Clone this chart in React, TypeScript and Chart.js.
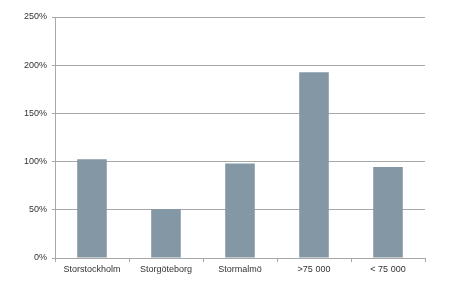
import React, { useEffect, useRef } from "react";
import { Chart, registerables } from "chart.js";

Chart.register(...registerables);

const categories = ["Storstockholm", "Storgöteborg", "Stormalmö", ">75 000", "< 75 000"];
const values = [102.4, 50.8, 97.9, 192.6, 94.4];
const yTicks = [0, 50, 100, 150, 200, 250];

export default function App() {
  const ref = useRef<HTMLCanvasElement | null>(null);
  useEffect(() => {
    document.body.style.margin = "0";
    const font = { family: "'Liberation Sans', Arial, sans-serif", size: 9 };
    const chart = new Chart(ref.current!, {
      type: "bar",
      data: {
        labels: categories,
        datasets: [
          {
            data: values,
            backgroundColor: "#8497a4",
            categoryPercentage: 1,
            barPercentage: 0.4,
          },
        ],
      },
      options: {
        animation: false,
        responsive: false,
        devicePixelRatio: 1,
        layout: { padding: { top: 17, right: 35, left: 0, bottom: 0 } },
        plugins: { legend: { display: false }, tooltip: { enabled: false } },
        scales: {
          x: {
            grid: {
              offset: true,
              drawOnChartArea: false,
              drawTicks: true,
              tickLength: 4,
              color: "#a8a8a8",
            },
            border: { color: "#a8a8a8" },
            ticks: { color: "#333", font, padding: 2, maxRotation: 0, autoSkip: false },
            afterFit: (s: any) => {
              s.height = 37;
            },
          },
          y: {
            min: 0,
            max: 250,
            afterBuildTicks: (s: any) => {
              s.ticks = yTicks.map((v) => ({ value: v }));
            },
            grid: { color: "#a8a8a8", tickLength: 3 },
            border: { color: "#a8a8a8" },
            ticks: {
              color: "#333",
              font,
              padding: 5,
              callback: (v: any) => v + "%",
            },
            afterFit: (s: any) => {
              s.width = 55;
            },
          },
        },
      },
    });
    return () => chart.destroy();
  }, []);
  return (
    <div style={{ width: 460, height: 295, background: "#fff" }}>
      <canvas ref={ref} width={460} height={295} />
    </div>
  );
}
